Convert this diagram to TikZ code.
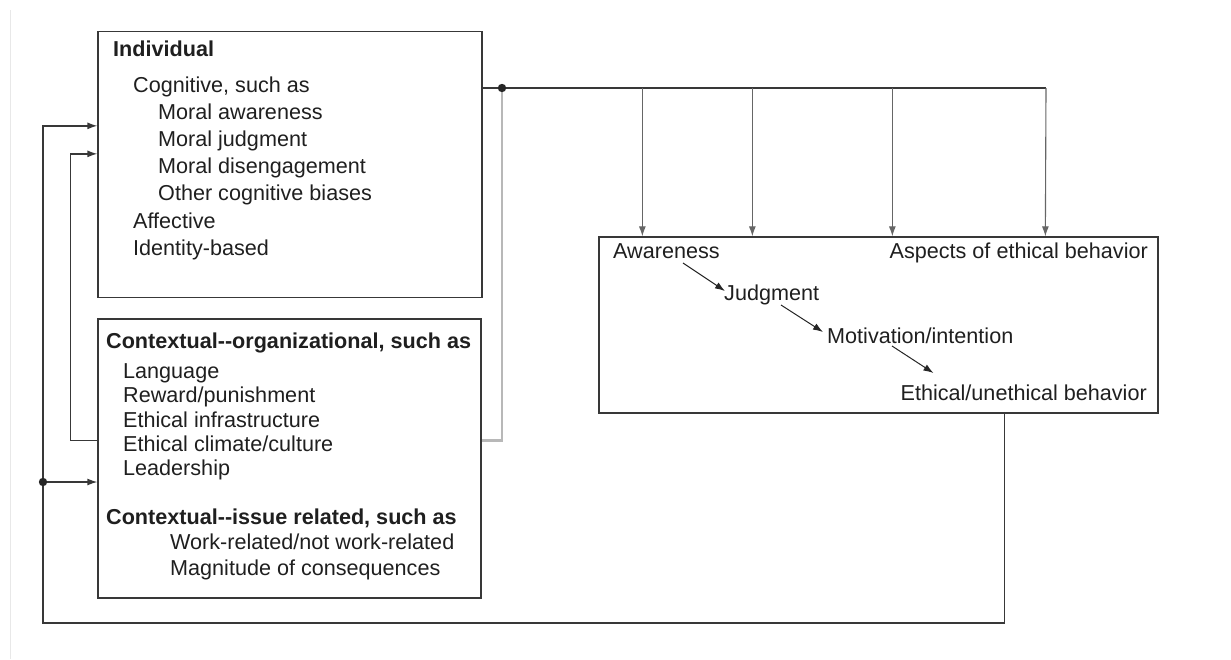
\documentclass[tikz,border=0pt]{standalone}
\usepackage{fontspec}
\setmainfont{Liberation Sans}
\usetikzlibrary{arrows.meta,calc}
\begin{document}
\begin{tikzpicture}[x=1pt,y=-1pt,
  box/.style={draw=black!78,line width=1.3pt,inner sep=0pt},
  txt/.style={anchor=base west,inner sep=0pt,text=black!88,font=\fontsize{21.6pt}{27pt}\selectfont},
  hd/.style={txt,font=\fontsize{21.6pt}{27pt}\selectfont\bfseries},
  conn/.style={draw=black!78,line width=1.3pt},
  arr/.style={conn,-{Latex[length=10pt,width=7pt]}},
  varr/.style={draw=black!60,line width=1.1pt,-{Latex[length=10pt,width=7pt]}},
  darr/.style={draw=black!85,line width=1pt,-{Latex[length=10pt,width=7pt]}},
  glink/.style={draw=black!28,line width=2.5pt},
  dotc/.style={fill=black!85}]
\useasboundingbox (0,0) rectangle (1231,659);
\draw[gray!18,line width=1pt] (10,10) -- (10,659);

% boxes
\node[box,minimum width=384pt,minimum height=266pt] (ind) at (290,164.5) {};
\node[box,minimum width=383pt,minimum height=279pt] (ctx) at (289.5,458.5) {};
\node[box,minimum width=559pt,minimum height=176pt] (rb) at (878.5,325) {};

% Individual texts
\node[hd] (t1) at (113,56) {Individual};
\node[txt] (t2) at (133,92) {Cognitive, such as};
\node[txt] (t3) at (158,119) {Moral awareness};
\node[txt] (t4) at (158,146) {Moral judgment};
\node[txt] (t5) at (158,173) {Moral disengagement};
\node[txt] (t6) at (158,200) {Other cognitive biases};
\node[txt] (t7) at (133,228) {Affective};
\node[txt] (t8) at (133,255) {Identity-based};

% Contextual texts
\node[hd] (c1) at (106,348) {Contextual-\kern0pt-organizational, such as};
\node[txt] (c2) at (123,378) {Language};
\node[txt] (c3) at (123,402) {Reward/punishment};
\node[txt] (c4) at (123,427) {Ethical infrastructure};
\node[txt] (c5) at (123,451) {Ethical climate/culture};
\node[txt] (c6) at (123,475) {Leadership};
\node[hd] (c7) at (106,524) {Contextual-\kern0pt-issue related, such as};
\node[txt] (c8) at (170,549) {Work-related/not work-related};
\node[txt] (c9) at (170,575) {Magnitude of consequences};

% Right box texts
\node[txt] (aw) at (613,258) {Awareness};
\node[txt,anchor=base east] (asp) at (1148,258) {Aspects of ethical behavior};
\node[txt] (jd) at (724,300) {Judgment};
\node[txt] (mo) at (827,343) {Motivation/intention};
\node[txt,anchor=base east] (eb) at (1147,400) {Ethical/unethical behavior};

% sequence arrows
\draw[darr] ([xshift=70pt,yshift=-5pt]aw.base west) -- ([xshift=1pt,yshift=9pt]jd.base west);
\draw[darr] ([xshift=57pt,yshift=-5pt]jd.base west) -- ([xshift=-4pt,yshift=11pt]mo.base west);
\draw[darr] ([xshift=65pt,yshift=-3pt]mo.base west) -- ([xshift=33pt,yshift=27pt]eb.base west);

% top distribution
\coordinate (j) at (502,88);
\coordinate (e) at (1046,88);
\draw[glink] (j) |- ([yshift=-122pt]ctx.north east);
\draw[conn] (j -| ind.east) -- (e);
\draw[varr] ([xshift=44pt]rb.north west |- j) -- ([xshift=44pt]rb.north west);
\draw[varr] ([xshift=154pt]rb.north west |- j) -- ([xshift=154pt]rb.north west);
\draw[varr] ([xshift=294pt]rb.north west |- j) -- ([xshift=294pt]rb.north west);
\draw[varr] (e) -- ([xshift=447pt]rb.north west);
\fill[dotc] (j) circle (4.2pt);

% feedback loops
\coordinate (bl) at (43,623);
\coordinate (d2) at (43,482);
\draw[arr] ([xshift=406pt]rb.south west) |- (bl) |- ([yshift=-95pt]ind.north west);
\draw[arr] (d2) -- (d2 -| ctx.west);
\fill[dotc] (d2) circle (4.2pt);
\draw[arr] ([yshift=-122pt]ctx.north west) -- ++(-27pt,0) |- ([yshift=-123pt]ind.north west);
\end{tikzpicture}
\end{document}
